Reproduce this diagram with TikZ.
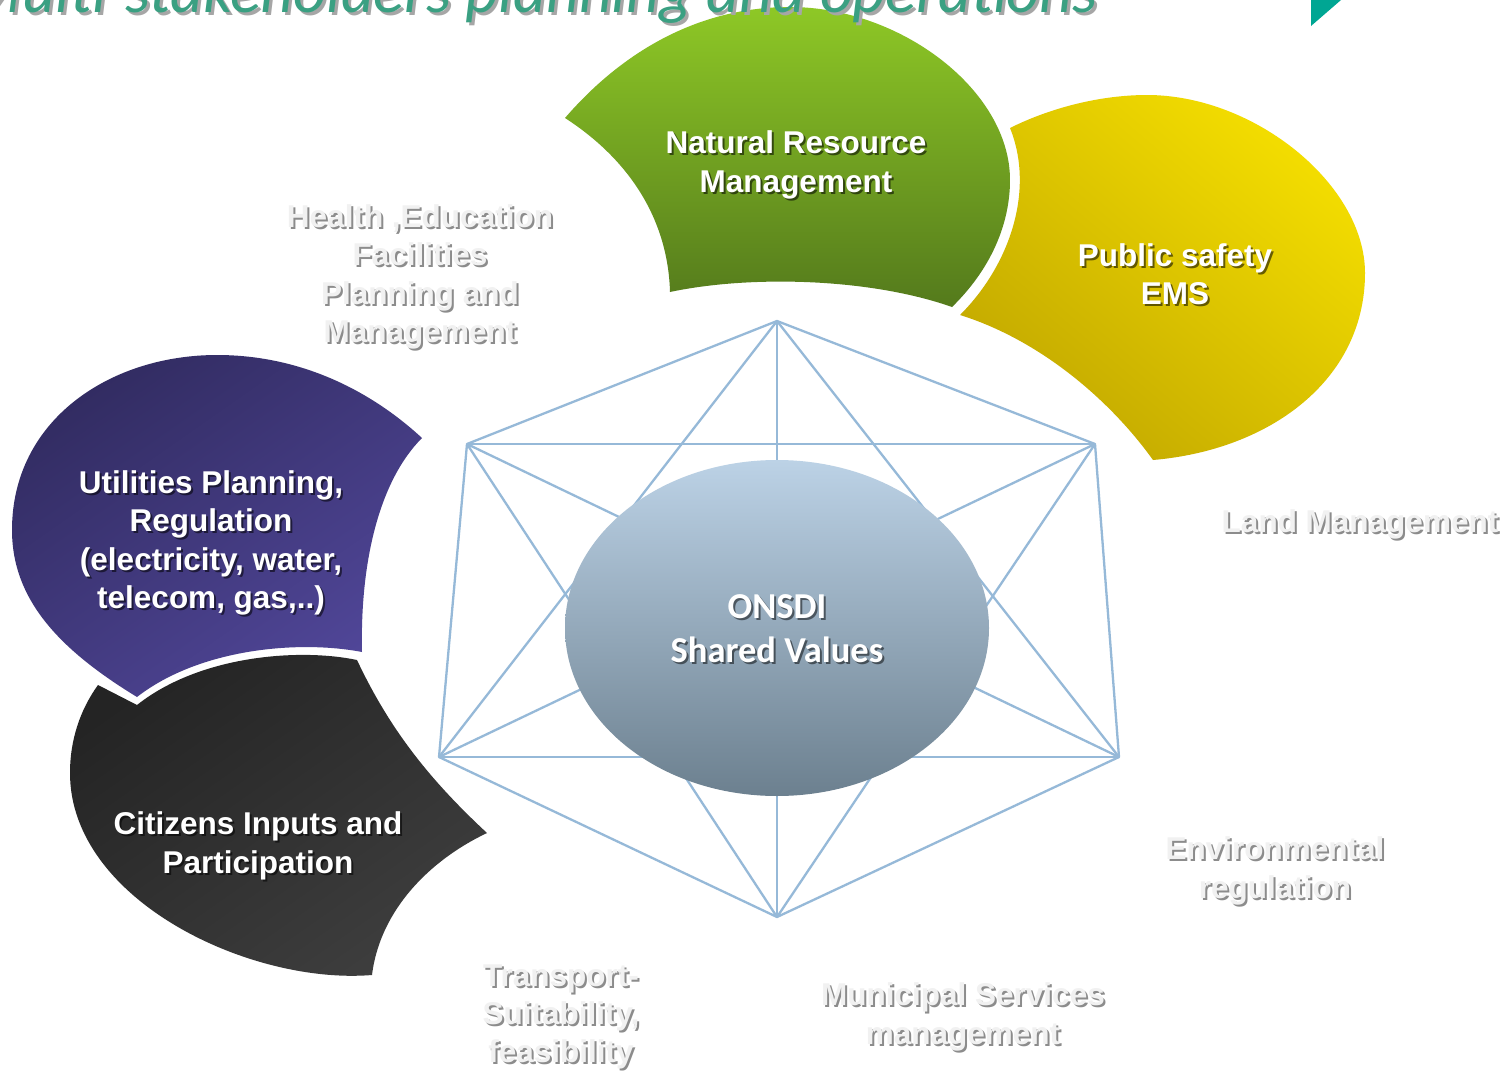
\documentclass[tikz,border=0pt]{standalone}
\usepackage{fontspec}
\setmainfont{Liberation Sans}
\newfontfamily\calib{Carlito}
\definecolor{grtop}{RGB}{142,200,38}
\definecolor{grbot}{RGB}{84,122,28}
\definecolor{yebright}{RGB}{244,222,0}
\definecolor{yedark}{RGB}{194,168,0}
\definecolor{pudark}{RGB}{50,44,98}
\definecolor{pulight}{RGB}{80,70,152}
\definecolor{bkdark}{RGB}{36,36,36}
\definecolor{bklight}{RGB}{62,62,62}
\definecolor{eltop}{RGB}{188,210,230}
\definecolor{elbot}{RGB}{108,128,143}
\definecolor{hexline}{RGB}{150,185,216}
\definecolor{titlecol}{RGB}{58,160,130}
\definecolor{tealtri}{RGB}{0,166,147}
\definecolor{glabel}{RGB}{241,241,241}
\definecolor{gshadow}{RGB}{140,140,140}
\tikzset{
  ptxt/.style={font=\bfseries\fontsize{31.5}{38.5}\selectfont, align=center, text=white, inner sep=0pt},
  pshd/.style={ptxt, text=black, text opacity=0.55},
  gtxt/.style={font=\bfseries\fontsize{31.5}{38.3}\selectfont, align=center, text=glabel, inner sep=0pt},
  gshd/.style={gtxt, text=gshadow},
  hex/.style={draw=hexline, line width=2.3pt},
  ttl/.style={font=\calib\itshape\fontsize{64}{64}\selectfont, anchor=base east, inner sep=0pt},
}
\begin{document}
\begin{tikzpicture}[x=1pt,y=-1pt]
\fill[white] (0,0) rectangle (1505,1071);
\useasboundingbox (0,0) rectangle (1505,1071);
\clip (0,0) rectangle (1505,1071);

\fill[tealtri] (1311,0) -- (1341,0) -- (1311,26) -- cycle;

% hexagon star
\coordinate (T) at (777,321);
\coordinate (UL) at (467,444);
\coordinate (UR) at (1095,444);
\coordinate (LL) at (439,757);
\coordinate (LR) at (1119,757);
\coordinate (B) at (777,917);
\draw[hex, line join=round] (T) -- (UR) -- (LR) -- (B) -- (LL) -- (UL) -- cycle;
\draw[hex] (UL) -- (UR);
\draw[hex] (LL) -- (LR);
\draw[hex] (T) -- (B);
\draw[hex] (T) -- (LL);
\draw[hex] (T) -- (LR);
\draw[hex] (B) -- (UL);
\draw[hex] (B) -- (UR);
\draw[hex] (UL) -- (LR);
\draw[hex] (UR) -- (LL);

% central ellipse
\shade[top color=eltop, bottom color=elbot] (777,628) ellipse [x radius=212, y radius=168];
\node[font=\calib\bfseries\fontsize{36.5}{44}\selectfont, align=center, text=black, text opacity=0.5, inner sep=0pt] (onsdis) at (779,631) {ONSDI\\Shared Values};
\node[font=\calib\bfseries\fontsize{36.5}{44}\selectfont, align=center, text=white, inner sep=0pt] (onsdi) at (777,629) {ONSDI\\Shared Values};

% green petal
\shade[top color=grtop, bottom color=grbot]
  (565,118) .. controls (615,60) and (690,7) .. (790,7)
  .. controls (900,7) and (1010,90) .. (1010,180)
  .. controls (1010,225) and (990,270) .. (952,307)
  .. controls (870,278) and (750,275) .. (670,292)
  .. controls (668,220) and (630,160) .. (565,118) -- cycle;
% yellow petal
\shade[top color=yebright, bottom color=yedark, shading angle=-40]
  (1010,128) .. controls (1050,108) and (1100,95) .. (1147,95)
  .. controls (1255,95) and (1365,185) .. (1365,273)
  .. controls (1365,380) and (1270,450) .. (1153,460)
  .. controls (1110,400) and (1040,340) .. (960,315)
  .. controls (1010,265) and (1035,190) .. (1010,128) -- cycle;
% purple petal
\shade[top color=pudark, bottom color=pulight, shading angle=35]
  (137,697) .. controls (60,650) and (12,600) .. (12,530)
  .. controls (12,420) and (110,355) .. (217,355)
  .. controls (300,355) and (370,390) .. (422,438)
  .. controls (380,480) and (360,560) .. (362,652)
  .. controls (300,640) and (200,648) .. (137,697) -- cycle;
% black petal
\shade[top color=bkdark, bottom color=bklight, shading angle=35]
  (98,685) -- (137,705)
  .. controls (200,655) and (300,648) .. (357,660)
  .. controls (390,730) and (430,780) .. (487,833)
  .. controls (430,860) and (380,910) .. (372,975)
  .. controls (250,985) and (70,900) .. (70,773)
  .. controls (70,740) and (80,710) .. (98,685) -- cycle;

% title (cut off at top, drawn over the green petal)
\node[ttl, text=gray!70] (titles) at (1101,15) {Multi-stakeholders planning and operations};
\node[ttl, text=titlecol] (title) at (1098,12) {Multi-stakeholders planning and operations};

% petal texts
\node[pshd] (nrms) at (798,167) {Natural Resource\\Management};
\node[ptxt] (nrm) at (796,165) {Natural Resource\\Management};
\node[pshd] (pubs) at (1177,276) {Public safety\\EMS};
\node[ptxt] (pub) at (1175,274) {Public safety\\EMS};
\node[pshd] (utils) at (213,545) {Utilities Planning,\\Regulation\\(electricity, water,\\telecom, gas,..)};
\node[ptxt] (util) at (211,543) {Utilities Planning,\\Regulation\\(electricity, water,\\telecom, gas,..)};
\node[pshd] (cits) at (260,848) {Citizens Inputs and\\Participation};
\node[ptxt] (cit) at (258,846) {Citizens Inputs and\\Participation};

% grey labels
\node[gshd] (hlths) at (422,279) {Health ,Education\\Facilities\\Planning and\\Management};
\node[gtxt] (hlth) at (420,277) {Health ,Education\\Facilities\\Planning and\\Management};
\node[gshd] (lands) at (1362,526) {Land Management};
\node[gtxt] (land) at (1360,524) {Land Management};
\node[gshd] (envs) at (1277,873) {Environmental\\regulation};
\node[gtxt] (env) at (1275,871) {Environmental\\regulation};
\node[gshd] (trans) at (563,1019) {Transport-\\Suitability,\\feasibility};
\node[gtxt] (tran) at (561,1017) {Transport-\\Suitability,\\feasibility};
\node[gshd] (muns) at (965,1019) {Municipal Services\\management};
\node[gtxt] (mun) at (963,1017) {Municipal Services\\management};
\end{tikzpicture}
\end{document}
